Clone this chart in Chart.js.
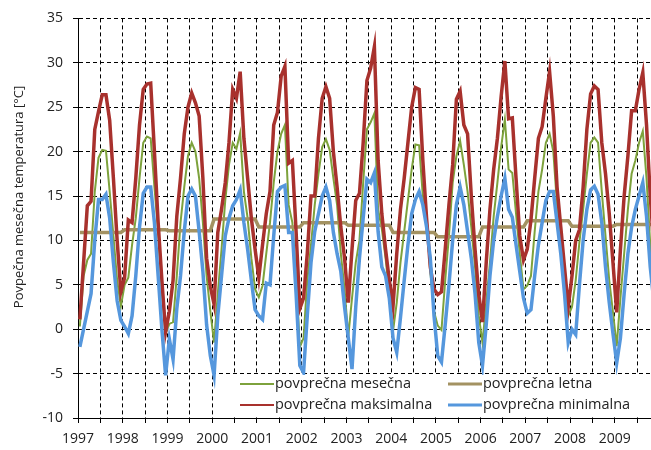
<!DOCTYPE html>
<html>
<head>
<meta charset="utf-8">
<script src="https://cdn.jsdelivr.net/npm/chart.js@4.4.1/dist/chart.umd.min.js"></script>
<style>
  body { margin: 0; background: #fff; }
  #graf { display: block; }
</style>
</head>
<body>
<canvas id="graf" width="651" height="450"></canvas>
<script>
const zacetnoLeto = 1997;

// povprečna maksimalna, po mesecih (jan..dec), 1997-2009
const maksimalna = [
  1.1, 7.5, 13.9, 14.4, 22.5, 24.5, 26.4, 26.4, 23.5, 17.0, 10.0, 4.2,
  5.8, 12.3, 12.0, 17.0, 23.0, 27.0, 27.6, 27.7, 20.0, 12.0, 5.5, -0.3,
  2.0, 5.5, 12.7, 17.0, 22.0, 25.0, 26.6, 25.5, 24.0, 17.0, 8.0, 4.8,
  2.8, 10.9, 13.5, 16.5, 21.0, 27.0, 26.0, 29.0, 21.5, 17.0, 12.5, 9.0,
  5.8, 9.5, 13.0, 15.5, 23.0, 24.4, 28.5, 29.6, 18.7, 19.0, 11.0, 2.3,
  3.5, 8.5, 15.0, 15.0, 21.5, 26.0, 27.3, 26.0, 20.0, 16.0, 11.5, 8.0,
  3.0, 9.0, 14.5, 15.3, 21.0, 28.0, 29.4, 31.8, 19.0, 13.0, 9.0, 5.5,
  2.6, 8.5, 13.5, 17.0, 21.0, 25.0, 27.2, 27.0, 19.0, 12.5, 7.0, 4.5,
  3.9, 4.2, 9.0, 14.0, 18.5, 25.9, 26.8, 23.0, 22.0, 15.0, 9.0, 3.9,
  0.8, 7.5, 13.5, 18.0, 21.5, 26.2, 30.2, 23.7, 23.8, 17.0, 10.5, 7.8,
  9.0, 12.3, 17.0, 21.5, 22.8, 26.0, 29.0, 24.0, 16.0, 11.5, 7.0, 2.5,
  6.0, 10.0, 11.2, 16.0, 22.5, 26.5, 27.4, 27.0, 21.0, 17.5, 13.0, 7.5,
  1.9, 9.0, 15.0, 19.5, 24.6, 24.6, 27.0, 28.9, 23.0, 15.0, 9.0, 4.0
];

// povprečna mesečna
const mesecna = [
  0.3, 6.0, 7.8, 8.5, 15.5, 19.3, 20.2, 20.1, 15.5, 10.5, 5.5, 2.6,
  5.0, 5.8, 9.5, 12.5, 17.0, 21.0, 21.7, 21.5, 16.0, 11.0, 4.0, -0.5,
  0.6, 0.8, 6.0, 12.0, 16.0, 19.5, 21.0, 20.0, 17.0, 12.0, 6.0, 2.0,
  -1.5, 4.0, 9.0, 14.5, 18.5, 21.0, 20.3, 22.1, 15.5, 12.5, 8.0, 4.5,
  3.6, 4.9, 8.5, 12.0, 16.5, 20.0, 22.0, 23.0, 14.0, 12.0, 6.0, -2.0,
  -1.0, 5.5, 9.5, 14.0, 17.5, 20.5, 21.4, 20.2, 17.0, 14.0, 8.5, 4.5,
  -0.8, 3.5, 7.5, 10.0, 16.5, 22.5, 23.3, 24.3, 13.5, 11.3, 8.0, 4.0,
  -0.2, 3.0, 7.5, 11.0, 14.5, 18.0, 20.8, 20.7, 15.0, 12.5, 6.5, 2.0,
  0.4, -0.1, 5.5, 10.5, 16.5, 19.5, 21.2, 18.5, 15.5, 11.5, 7.0, 1.5,
  -1.5, 3.0, 7.5, 12.7, 16.5, 20.5, 23.6, 18.0, 17.6, 13.0, 8.5, 4.5,
  4.9, 6.0, 11.0, 15.5, 18.0, 21.0, 22.0, 20.0, 14.0, 10.5, 7.0, 1.5,
  2.5, 5.5, 9.8, 13.5, 17.5, 21.0, 21.6, 21.0, 15.5, 10.5, 5.5, 1.9,
  -1.9, 3.5, 8.5, 13.5, 17.5, 19.0, 21.0, 22.3, 17.0, 9.5, 5.0, 1.0
];

// povprečna minimalna
const minimalna = [
  -2.0, 0.0, 2.0, 4.0, 10.0, 14.6, 14.6, 15.2, 12.5, 7.5, 3.2, 1.0,
  0.3, -0.5, 1.5, 6.0, 11.5, 15.3, 16.0, 16.0, 12.0, 6.0, 0.0, -5.2,
  -1.1, -3.4, 2.3, 6.0, 11.0, 15.0, 15.8, 15.0, 11.0, 6.5, 0.5, -3.0,
  -5.2, 1.5, 6.0, 10.5, 12.5, 13.9, 14.6, 15.7, 12.0, 9.0, 5.5, 2.2,
  1.5, 1.1, 5.2, 5.0, 10.5, 15.5, 16.0, 16.2, 10.9, 10.9, 4.0, -4.1,
  -4.9, 1.5, 7.5, 11.0, 13.0, 15.0, 16.0, 14.5, 10.9, 8.5, 6.5, 2.5,
  -1.0, -4.5, 2.5, 8.0, 12.5, 16.9, 16.5, 17.6, 11.0, 7.0, 6.0, 3.5,
  -1.0, -2.6, 1.3, 5.5, 9.5, 13.0, 14.6, 15.5, 14.0, 11.5, 8.0, 1.5,
  -3.0, -3.7, 0.5, 5.0, 10.0, 14.0, 16.0, 14.0, 11.0, 8.0, 4.0, -1.5,
  -4.1, 0.5, 6.0, 10.0, 12.7, 15.0, 17.0, 13.5, 12.6, 9.5, 6.5, 3.5,
  1.8, 2.2, 6.0, 9.5, 12.0, 14.5, 15.5, 15.5, 12.0, 8.5, 4.0, -1.5,
  0.0, -0.6, 5.0, 10.0, 13.5, 15.7, 16.1, 15.2, 12.0, 7.0, 3.0, -0.5,
  -3.8, -1.0, 4.0, 8.5, 11.5, 13.5, 15.0, 16.5, 12.7, 7.0, 3.0, -1.0
];

// povprečna letna, ena vrednost za vsako leto
const letna = [10.9, 11.2, 11.1, 12.4, 11.5, 12.0, 11.7, 10.9, 10.4, 11.5, 12.2, 11.6, 11.8];

const yTicks = [-10, -5, 0, 5, 10, 15, 20, 25, 30, 35];

const barve = {
  mesecna: "#7da23c",
  letna: "#a39262",
  maks: "#a8312d",
  min: "#5597dd",
};

const vTocke = (vrednosti) => vrednosti.map((v, i) => ({ x: i, y: v }));
const letnaTocke = () => mesecna.map((_, i) => ({ x: i, y: letna[Math.floor(i / 12)] }));

const legenda = [
  { text: "povprečna mesečna", color: barve.mesecna, w: 2, x: 240, y: 384 },
  { text: "povprečna letna", color: barve.letna, w: 3, x: 448, y: 384 },
  { text: "povprečna maksimalna", color: barve.maks, w: 2, x: 240, y: 405 },
  { text: "povprečna minimalna", color: barve.min, w: 3, x: 448, y: 405 },
];

const legendaPlugin = {
  id: "legendaVGrafu",
  afterDraw(chart) {
    const { ctx, chartArea } = chart;
    ctx.save();
    ctx.fillStyle = "#fff";
    ctx.fillRect(226, 375, chartArea.right - 226, chartArea.bottom - 376);
    ctx.font = "14.5px 'Open Sans', sans-serif";
    ctx.textBaseline = "middle";
    legenda.forEach((l) => {
      ctx.strokeStyle = l.color;
      ctx.lineWidth = l.w;
      ctx.beginPath();
      ctx.moveTo(l.x, l.y);
      ctx.lineTo(l.x + 34, l.y);
      ctx.stroke();
      ctx.fillStyle = "#222";
      ctx.fillText(l.text, l.x + 35, l.y);
    });

    // naslov osi y
    ctx.translate(19, 197);
    ctx.rotate(-Math.PI / 2);
    ctx.textAlign = "center";
    ctx.font = "13px 'Open Sans', sans-serif";
    ctx.fillStyle = "#222";
    ctx.fillText("Povpečna mesečna temperatura [°C]", 0, 0);
    ctx.restore();
  },
};

const config = {
  type: "line",
  data: {
    datasets: [
      { label: "povprečna minimalna", data: vTocke(minimalna), borderColor: barve.min, borderWidth: 3.5 },
      { label: "povprečna maksimalna", data: vTocke(maksimalna), borderColor: barve.maks, borderWidth: 3.5 },
      { label: "povprečna letna", data: letnaTocke(), borderColor: barve.letna, borderWidth: 3.5 },
      { label: "povprečna mesečna", data: vTocke(mesecna), borderColor: barve.mesecna, borderWidth: 2 },
    ],
  },
  options: {
    responsive: false,
    animation: false,
    layout: { padding: { top: 18, right: 0, left: 0, bottom: 0 } },
    elements: {
      point: { radius: 0 },
      line: { tension: 0, fill: false },
    },
    plugins: {
      legend: { display: false },
      tooltip: { enabled: false },
    },
    scales: {
      x: {
        type: "linear",
        min: -0.5,
        max: 153.2,
        afterBuildTicks: (scale) => {
          const t = [];
          for (let v = -0.5; v <= scale.max; v += 6) t.push({ value: v });
          scale.ticks = t;
        },
        afterFit: (scale) => { scale.height = 32; },
        ticks: {
          autoSkip: false,
          maxRotation: 0,
          color: "#222",
          font: { size: 14 },
          padding: 8,
          callback: (v) => ((v + 0.5) % 12 === 0 ? String(zacetnoLeto + (v + 0.5) / 12) : ""),
        },
        grid: { color: "#000", lineWidth: 1, tickLength: 5, tickColor: "#000", tickBorderDash: [] },
        border: { color: "#000", width: 1, dash: [4, 3] },
      },
      y: {
        min: -10,
        max: 35,
        afterBuildTicks: (scale) => { scale.ticks = yTicks.map((v) => ({ value: v })); },
        afterFit: (scale) => { scale.width = 78; },
        ticks: { color: "#222", font: { size: 14 }, padding: 10 },
        grid: { color: "#000", lineWidth: 1, tickLength: 5, tickColor: "#000", tickBorderDash: [] },
        border: { color: "#000", width: 1, dash: [4, 3] },
      },
    },
  },
  plugins: [legendaPlugin],
};

Chart.defaults.font.family = "'Open Sans', sans-serif";
new Chart(document.getElementById("graf"), config);
</script>
</body>
</html>
